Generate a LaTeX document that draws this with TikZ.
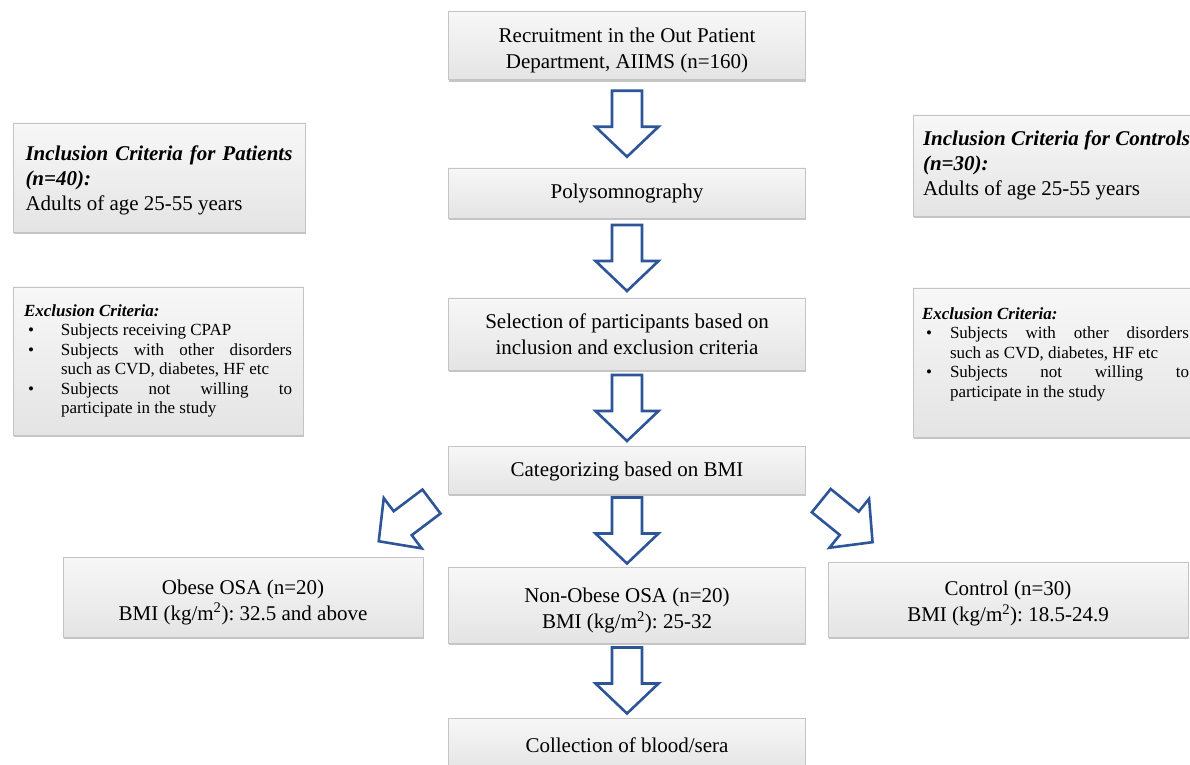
\documentclass[tikz,border=0pt]{standalone}
\usepackage{fontspec}
\setmainfont{Liberation Serif}
\newfontfamily\bodyfont{Liberation Serif}
\usetikzlibrary{positioning, calc, shadows}
\definecolor{arrowblue}{HTML}{2E5597}
\definecolor{boxline}{HTML}{C4C4C4}
\definecolor{boxfill}{HTML}{E4E4E4}
\frenchspacing

\newlength{\crhang}
\newcommand{\critem}[1]{\par\noindent\hangindent=\crhang\hangafter=1\makebox[\crhang][l]{\hspace{4pt}\textbullet}#1}

\tikzset{
    pics/blockarrow/.style={code={
        \draw[arrowblue, line width=2.6pt, fill=white, line join=miter]
            (-15,33) -- (15,33) -- (15,-3) -- (31.5,-3) -- (0,-33) -- (-31.5,-3) -- (-15,-3) -- cycle;
    }},
}

\begin{document}
\begin{tikzpicture}[
    x=1pt, y=1pt,
    every node/.style={font=\bodyfont\fontsize{21}{26}\selectfont},
    panel/.style={rectangle, draw=boxline, line width=0.8pt, top color=white!97!black, bottom color=boxfill,
        drop shadow={shadow xshift=0.8pt, shadow yshift=-2.2pt, fill=black!45}, inner sep=0pt},
    flow/.style={panel, align=center, minimum width=357},
    crit/.style={panel, align=justify, font=\bodyfont\fontsize{21}{25}\selectfont},
    critsmall/.style={panel, align=justify, font=\bodyfont\fontsize{17}{19.5}\selectfont},
]
\clip (0,0) rectangle (1190,764);

% ============================================================ main column
\node[flow, minimum height=68] (rec) at (627,718.5)
    {\rule{0pt}{24pt}Recruitment in the Out Patient\\ Department, AIIMS (n=160)};
\node[flow, minimum height=50] (poly) at (627,571) {Polysomnography};
\node[flow, minimum height=72] (sel) at (627,430)
    {Selection of participants based on\\ inclusion and exclusion criteria};
\node[flow, minimum height=48] (cat) at (627,294) {\rule{0pt}{18pt}Categorizing based on BMI};
\node[flow, minimum height=76] (nonobese) at (627,159)
    {\rule{0pt}{26pt}Non-Obese OSA (n=20)\\ BMI (kg/m\textsuperscript{2}): 25-32};
\node[flow, minimum height=54] (blood) at (627,19) {Collection of blood/sera};

% ============================================================ the three groups
\node[panel, align=center, minimum width=360, minimum height=80] (obese) at (243,167)
    {\rule{0pt}{25pt}Obese OSA (n=20)\\ BMI (kg/m\textsuperscript{2}): 32.5 and above};
\node[panel, align=center, minimum width=360, minimum height=75] (control) at (1008,164.5)
    {\rule{0pt}{23pt}Control (n=30)\\ BMI (kg/m\textsuperscript{2}): 18.5-24.9};

% ============================================================ criteria, patients
\node[crit, text width=267, inner xsep=12.5, minimum height=109] (inclpat) at (159,586.5)
    {\rule{0pt}{20pt}{\bfseries\itshape Inclusion Criteria for Patients\linebreak (n=40):}\par
     Adults of age 25-55 years};
\node[critsmall, text width=268, inner xsep=11, minimum height=148] (exclpat) at (158,403)
    {\setlength{\crhang}{37pt}{\bfseries\itshape Exclusion Criteria:}
     \critem{Subjects receiving CPAP}
     \critem{Subjects with other disorders\linebreak such as CVD, diabetes, HF etc}
     \critem{Subjects not willing to\linebreak participate in the study}\par};

% ============================================================ criteria, controls
\node[crit, text width=267, inner xsep=10, minimum height=101] (inclctl) at (1056.5,598.5)
    {{\bfseries\itshape Inclusion Criteria for Controls\linebreak (n=30):}\par
     Adults of age 25-55 years};
\node[critsmall, text width=267, inner xsep=9, minimum height=149] (exclctl) at (1055.5,401.5)
    {\setlength{\crhang}{28pt}{\bfseries\itshape Exclusion Criteria:}
     \critem{Subjects with other disorders\linebreak such as CVD, diabetes, HF etc}
     \critem{Subjects not willing to\linebreak participate in the study\rule[-20pt]{0pt}{20pt}}\par};

% ============================================================ block arrows
\pic at ($(rec.south)!0.5!(poly.north)$) {blockarrow};
\pic at ($(poly.south)!0.5!(sel.north)$) {blockarrow};
\pic at ($(sel.south)!0.5!(cat.north)$) {blockarrow};
\pic at ($(cat.south)!0.5!(nonobese.north)$) {blockarrow};
\pic at ($(nonobese.south)!0.5!(blood.north)$) {blockarrow};
\pic[rotate=-53] at ($(cat.south west)+(-43,-27)$) {blockarrow};
\pic[rotate=51] at ($(cat.south east)+(41,-27)$) {blockarrow};

\end{tikzpicture}
\end{document}
